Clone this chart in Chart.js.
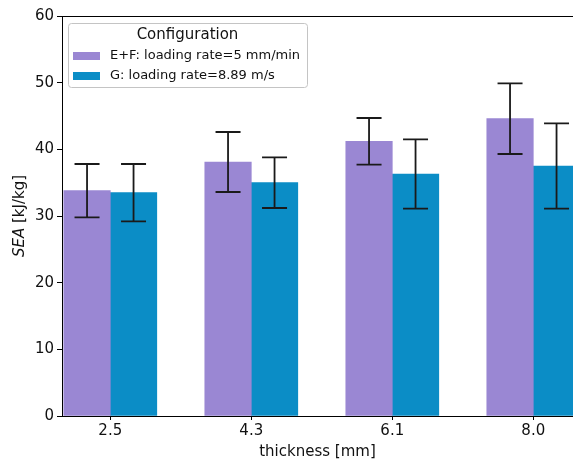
<!DOCTYPE html>
<html>
<head>
<meta charset="utf-8">
<script src="https://cdn.jsdelivr.net/npm/chart.js@4.4.1/dist/chart.umd.min.js"></script>
<style>
  html, body { margin: 0; padding: 0; background: #fff; overflow: hidden; }
</style>
</head>
<body>
<canvas id="grafico" width="573" height="463"></canvas>
<script>
// valores
var thickness = ['2.5', '4.3', '6.1', '8.0'];
var seaEF = [33.8, 38.1, 41.2, 44.6];
var stdEF = [4.0, 4.5, 3.5, 5.3];
var seaG = [33.5, 35.0, 36.3, 37.5];
var stdG = [4.3, 3.8, 5.2, 6.4];
var yTicks = [0, 10, 20, 30, 40, 50, 60];

var fonte = 'DejaVu Sans';
var corEF = '#9a87d3';
var corG = '#0b8dc6';

function pontos(vals){
    var arr = [];
    for(var i=0;i<vals.length;i++){
        arr.push({x: i, y: vals[i]});
    }
    return arr;
}

var barrasErro = {
    id: 'barrasErro',
    afterDatasetsDraw: function(chart){
        var ctx = chart.ctx;
        var ys = chart.scales.y;
        ctx.save();
        ctx.strokeStyle = '#1a1a1a';
        ctx.lineWidth = 1.8;
        chart.data.datasets.forEach(function(ds, d){
            var meta = chart.getDatasetMeta(d);
            meta.data.forEach(function(bar, i){
                var v = ds.data[i].y, s = ds.erro[i];
                var y1 = ys.getPixelForValue(v + s);
                var y2 = ys.getPixelForValue(v - s);
                ctx.beginPath();
                ctx.moveTo(bar.x, y1); ctx.lineTo(bar.x, y2);
                ctx.moveTo(bar.x - 12.5, y1); ctx.lineTo(bar.x + 12.5, y1);
                ctx.moveTo(bar.x - 12.5, y2); ctx.lineTo(bar.x + 12.5, y2);
                ctx.stroke();
            });
        });
        ctx.restore();
    }
};

var molduraLegenda = {
    id: 'molduraLegenda',
    afterDraw: function(chart){
        var ctx = chart.ctx;
        var a = chart.chartArea;
        ctx.save();
        // spine de cima (a da direita fica fora da imagem)
        ctx.strokeStyle = '#000';
        ctx.lineWidth = 1;
        ctx.beginPath();
        ctx.moveTo(a.left, Math.round(a.top) + 0.5);
        ctx.lineTo(a.right, Math.round(a.top) + 0.5);
        ctx.stroke();

        // legenda
        var x0 = a.left + 6, y0 = a.top + 7, w = 239, h = 64;
        ctx.beginPath();
        ctx.roundRect(x0 + 0.5, y0 + 0.5, w, h, 3);
        ctx.fillStyle = 'rgba(255,255,255,0.85)';
        ctx.fill();
        ctx.strokeStyle = '#c4c4c4';
        ctx.stroke();
        ctx.fillStyle = '#111';
        ctx.textAlign = 'center';
        ctx.textBaseline = 'middle';
        ctx.font = '15px "' + fonte + '"';
        ctx.fillText('Configuration', x0 + w/2, y0 + 12);
        ctx.textAlign = 'left';
        ctx.font = '13px "' + fonte + '"';
        chart.data.datasets.forEach(function(ds, d){
            var yy = y0 + 33 + d*20;
            ctx.fillStyle = ds.backgroundColor;
            ctx.fillRect(x0 + 5, yy - 4, 27, 8);
            ctx.fillStyle = '#111';
            ctx.fillText(ds.label, x0 + 42, yy);
        });

        // titulo do eixo y: SEA em italico
        ctx.translate(20, (a.top + a.bottom)/2);
        ctx.rotate(-Math.PI/2);
        ctx.textBaseline = 'middle';
        ctx.font = 'italic 15px "' + fonte + '"';
        var p1 = 'SEA', p2 = ' [kJ/kg]';
        var w1 = ctx.measureText(p1).width;
        ctx.font = '15px "' + fonte + '"';
        var w2 = ctx.measureText(p2).width;
        var inicio = -(w1 + w2)/2;
        ctx.font = 'italic 15px "' + fonte + '"';
        ctx.fillText(p1, inicio, 0);
        ctx.font = '15px "' + fonte + '"';
        ctx.fillText(p2, inicio + w1, 0);
        ctx.restore();
    }
};

var grafico = new Chart('grafico', {
    type: 'bar',
    data: {
        datasets: [
            {
                label: 'E+F: loading rate=5 mm/min',
                data: pontos(seaEF),
                erro: stdEF,
                backgroundColor: corEF,
                barThickness: 46.5
            },
            {
                label: 'G: loading rate=8.89 m/s',
                data: pontos(seaG),
                erro: stdG,
                backgroundColor: corG,
                barThickness: 46.5
            }
        ]
    },
    options: {
        responsive: false,
        animation: false,
        layout: { padding: { top: 16, right: 0, left: 0, bottom: 0 } },
        plugins: {
            legend: { display: false },
            tooltip: { enabled: false }
        },
        scales: {
            x: {
                type: 'linear',
                offset: false,
                min: -0.3425,
                max: 3.2816,
                afterBuildTicks: function(scale){
                    scale.ticks = thickness.map(function(t, i){ return {value: i}; });
                },
                afterFit: function(scale){ scale.height = 47; },
                ticks: {
                    color: '#111',
                    font: { family: fonte, size: 15 },
                    padding: 2,
                    maxRotation: 0,
                    callback: function(v){ return thickness[v]; }
                },
                grid: { offset: false, drawOnChartArea: false, drawTicks: true, tickLength: 4, color: '#000' },
                border: { display: true, color: '#000' },
                title: {
                    display: true,
                    text: 'thickness [mm]',
                    color: '#111',
                    font: { family: fonte, size: 15 },
                    padding: { top: 0, bottom: 2 }
                }
            },
            y: {
                min: 0,
                max: 60,
                afterBuildTicks: function(scale){
                    scale.ticks = yTicks.map(function(v){ return {value: v}; });
                },
                afterFit: function(scale){ scale.width = 62; },
                ticks: {
                    color: '#111',
                    font: { family: fonte, size: 15 },
                    padding: 3
                },
                grid: { drawOnChartArea: false, drawTicks: true, tickLength: 5, color: '#000' },
                border: { display: true, color: '#000' }
            }
        }
    },
    plugins: [barrasErro, molduraLegenda]
});
</script>
</body>
</html>
